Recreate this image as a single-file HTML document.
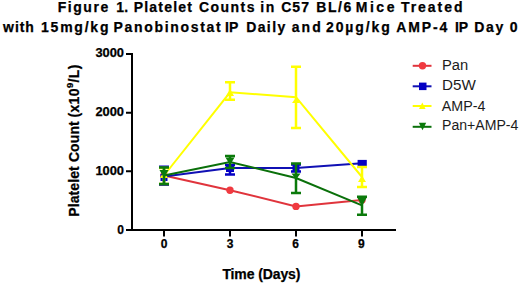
<!DOCTYPE html>
<html><head><meta charset="utf-8">
<style>
html,body{margin:0;padding:0;background:#fff;width:520px;height:284px;overflow:hidden}
svg{display:block}
text{font-family:"Liberation Sans",sans-serif}
.b{font-weight:bold;stroke:#000;stroke-width:0.25px}
</style></head>
<body>
<svg width="520" height="284" viewBox="0 0 520 284">
<!-- title -->
<text class="b" x="57.64" y="12" font-size="14" textLength="50.56" lengthAdjust="spacing">Figure</text>
<text class="b" x="116.2" y="12" font-size="14">1</text><text class="b" x="124.2" y="12" font-size="14">.</text>
<text class="b" x="133.64" y="12" font-size="14" textLength="58.28" lengthAdjust="spacing">Platelet</text>
<text class="b" x="199.00" y="12" font-size="14" textLength="55.48" lengthAdjust="spacing">Counts</text>
<text class="b" x="260.20" y="12" font-size="14" textLength="14.14" lengthAdjust="spacing">in</text>
<text class="b" x="281.18" y="12" font-size="14" textLength="27.79" lengthAdjust="spacing">C57</text>
<text class="b" x="316.28" y="12" font-size="14" textLength="34.94" lengthAdjust="spacing">BL/6</text>
<text class="b" x="355.74" y="12" font-size="14" textLength="38.70" lengthAdjust="spacing">Mice</text>
<text class="b" x="400.90" y="12" font-size="14" textLength="61.55" lengthAdjust="spacing">Treated</text>
<text class="b" x="3.10" y="31.5" font-size="14" textLength="30.68" lengthAdjust="spacing">with</text>
<text class="b" x="41.02" y="31.5" font-size="14" textLength="67.43" lengthAdjust="spacing">15mg/kg</text>
<text class="b" x="113.38" y="31.5" font-size="14" textLength="107.32" lengthAdjust="spacing">Panobinostat</text>
<text class="b" x="225.00" y="31.5" font-size="14">IP</text>
<text class="b" x="246.20" y="31.5" font-size="14" textLength="38.99" lengthAdjust="spacing">Daily</text>
<text class="b" x="291.82" y="31.5" font-size="14" textLength="28.91" lengthAdjust="spacing">and</text>
<text class="b" x="326.00" y="31.5" font-size="14" textLength="63.75" lengthAdjust="spacing">20µg/kg</text>
<text class="b" x="396.18" y="31.5" font-size="14" textLength="51.04" lengthAdjust="spacing">AMP-4</text>
<text class="b" x="454.90" y="31.5" font-size="14">IP</text>
<text class="b" x="474.20" y="31.5" font-size="14" textLength="28.99" lengthAdjust="spacing">Day</text>
<text class="b" x="509.82" y="31.5" font-size="14">0</text>

<!-- axes -->
<g stroke="#000" stroke-width="2" fill="none">
<path d="M132 53V231"/>
<path d="M126 230H396"/>
<path d="M126 54H132M126 112.67H132M126 171.33H132"/>
<path d="M164 230V236.5M230 230V236.5M296 230V236.5M362 230V236.5"/>
</g>
<!-- y labels -->
<g class="b" font-size="12" text-anchor="end">
<text x="124" y="57.3" textLength="28.6" lengthAdjust="spacingAndGlyphs">3000</text>
<text x="124" y="116.4" textLength="28.6" lengthAdjust="spacingAndGlyphs">2000</text>
<text x="124" y="175.2" textLength="28.6" lengthAdjust="spacingAndGlyphs">1000</text>
<text x="124" y="234">0</text>
</g>
<!-- x labels -->
<g class="b" font-size="12" text-anchor="middle">
<text x="164" y="248">0</text>
<text x="230" y="248">3</text>
<text x="295.5" y="248">6</text>
<text x="361.3" y="248">9</text>
</g>
<text class="b" x="222.4" y="278.6" font-size="14" textLength="78" lengthAdjust="spacing">Time (Days)</text>
<text class="b" transform="translate(78.8,216.8) rotate(-90)" font-size="14" textLength="95.6" lengthAdjust="spacing">Platelet Count</text>
<text class="b" transform="translate(78.8,117.6) rotate(-90)" font-size="14" textLength="53" lengthAdjust="spacing">(x10<tspan font-size="9.5" dy="-6">9</tspan><tspan dy="6">/L)</tspan></text>

<!-- data: Pan red -->
<polyline fill="none" stroke="#e0343c" stroke-width="2" points="164,175.5 230,190.2 296,206.4 362,200.0"/>
<g fill="#f03a40"><circle cx="164" cy="175.5" r="3.7"/><circle cx="230" cy="190.2" r="3.7"/><circle cx="296" cy="206.4" r="3.7"/><circle cx="362" cy="200.0" r="3.7"/></g>
<path fill="none" stroke="#0400c4" stroke-width="2.5" d="M164 166.8V184.8M159 166.8H169M159 184.8H169M230 165V174.5M225 165H235M225 174.5H235M296 164.4V171.4M291 164.4H301M291 171.4H301"/>
<polyline fill="none" stroke="#1010b4" stroke-width="2" points="164,176.5 230,168 296,167.9 362,163.3"/>
<g fill="#0400c4"><rect x="160.5" y="174.0" width="7" height="7"/><rect x="226.0" y="165.0" width="8" height="7"/><rect x="292.5" y="164.4" width="7" height="7"/><rect x="357.59999999999997" y="159.9" width="9.2" height="6.8"/></g>
<path fill="none" stroke="#ffff00" stroke-width="2.5" d="M164 168V184M159 168H169M159 184H169M230 82.2V99.8M225 82.2H235M225 99.8H235M296 66.8V128M291 66.8H301M291 128H301M362 167V187M357 167H367M357 187H367"/>
<polyline fill="none" stroke="#ffff00" stroke-width="2" points="164,175.5 230,92.3 296,97.2 362,177"/>
<g fill="#ffff00"><path d="M164 171L168 178H160Z"/><path d="M230 89L234 96H226Z"/><path d="M296 97.5L300 103H292Z"/><path d="M362 175.5L366 182H358Z"/></g>
<path fill="none" stroke="#0b7a0b" stroke-width="2.5" d="M164 167.5V184M159 167.5H169M159 184H169M230 156V168M225 156H235M225 168H235M296 163.4V193M291 163.4H301M291 193H301M362 196.85V214.75M357 196.85H367M357 214.75H367"/>
<polyline fill="none" stroke="#0a700a" stroke-width="2" points="164,175.5 230,162 296,178 362,205.3"/>
<g fill="#0b7a0b"><path d="M159.5 170H168.5L164 178Z"/><path d="M225.5 157.5H234.5L230 165Z"/><path d="M291.5 173.5H300.5L296 179.5Z"/><path d="M357.5 198H366.5L362 206Z"/></g>

<!-- legend -->
<g stroke-width="2">
<path d="M412.7 65.8H431.5" stroke="#e0343c"/>
<path d="M412.7 86.3H431.5" stroke="#1010b4"/>
<path d="M412.7 106H431.5" stroke="#ffff00"/>
<path d="M412.7 126.8H431.5" stroke="#0a700a"/>
</g>
<circle cx="422.5" cy="65.8" r="3.7" fill="#f03a40"/>
<rect x="419" y="82.6" width="7.5" height="7.5" fill="#0400c4"/>
<path d="M422.3 102.5L425.6 109H419Z" fill="#ffff00"/>
<path d="M422.5 130.2L426.2 122.8H418.8Z" fill="#0b7a0b"/>
<g font-size="14" fill="#1c1c1c">
<text x="442" y="70.2" textLength="26.2" lengthAdjust="spacingAndGlyphs">Pan</text>
<text x="442" y="90.2" textLength="33.8" lengthAdjust="spacingAndGlyphs">D5W</text>
<text x="441.8" y="110.8" textLength="43.6" lengthAdjust="spacingAndGlyphs">AMP-4</text>
<text x="442" y="130.2" textLength="76.3" lengthAdjust="spacingAndGlyphs">Pan+AMP-4</text>
</g>
</svg>
</body></html>
